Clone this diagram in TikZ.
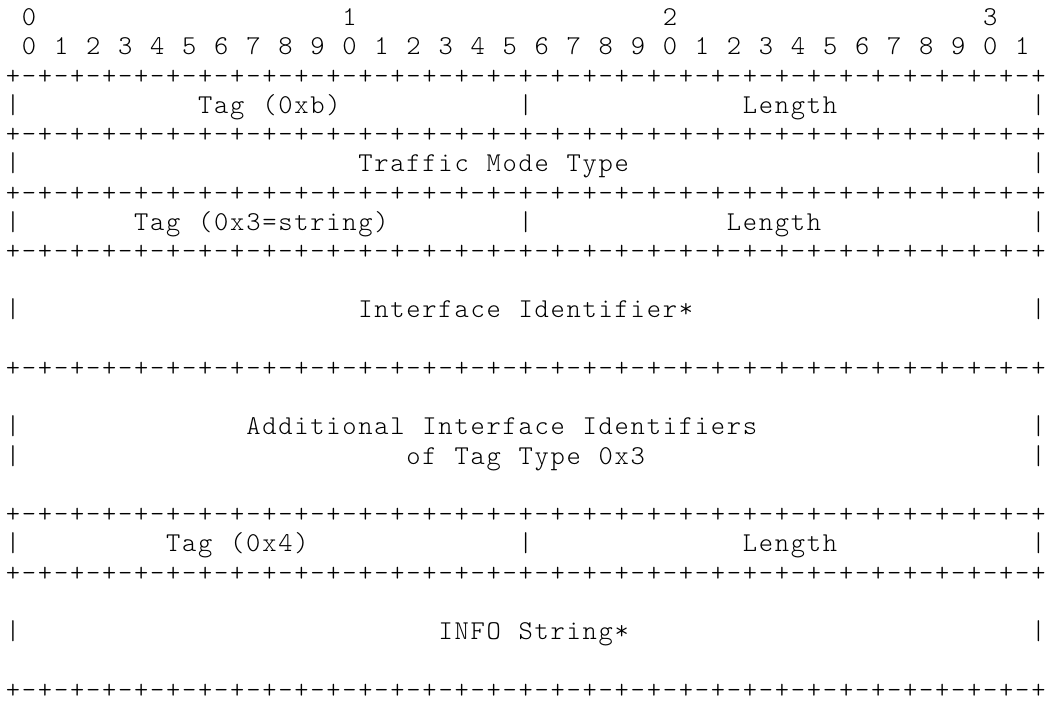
\documentclass[tikz,border=0pt]{standalone}
\usepackage{tikz}

\newlength\cellw
\setlength\cellw{8.01pt}
\newcommand\asciifont{\fontfamily{lmtt}\fontseries{l}\fontsize{13.6pt}{14.62pt}\selectfont}
\makeatletter
% one character per fixed cell, ~ for a blank cell
\newcommand\mono[1]{\@tfor\mono@c:=#1\do{\makebox[\cellw]{\mono@c}}}
\makeatother
\newcommand\octet{+-+-+-+-+-+-+-+-}
\edef\bitrule{\octet\octet\octet\octet+}
\newcommand\rulerow{\expandafter\mono\expandafter{\bitrule}}

\begin{document}
\begin{tikzpicture}[x=8.01pt,y=-14.62pt,
  asc/.style={anchor=base west,inner sep=0pt,font=\asciifont}]
\useasboundingbox (0pt,0pt) rectangle (523.5pt,-352pt);
\begin{scope}[shift={(2.35pt,-12.8pt)}]
% bit numbers
\node[asc] (dec0) at (1,0) {\mono{0}};
\node[asc] (dec1) at (21,0) {\mono{1}};
\node[asc] (dec2) at (41,0) {\mono{2}};
\node[asc] (dec3) at (61,0) {\mono{3}};
\foreach \i in {0,...,31}{
  \pgfmathtruncatemacro\d{mod(\i,10)}
  \node[asc] (bit\i) at (2*\i+1,1) {\mono{\d}};
}
% separators
\foreach \r in {2,4,6,8,12,17,19,23}
  \node[asc] (sep\r) at (0,\r) {\rulerow};
% side bars
\foreach \r in {3,5,7,10,14,15,18,21}{
  \node[asc] (lbar\r) at (0,\r) {\mono{|}};
  \node[asc] (rbar\r) at (64,\r) {\mono{|}};
}
\foreach \r in {3,7,18}
  \node[asc] (mbar\r) at (32,\r) {\mono{|}};
% fields
\node[asc] (tagtm) at (12,3) {\mono{Tag~(0xb)}};
\node[asc] (lentm) at (46,3) {\mono{Length}};
\node[asc] (tmtype) at (22,5) {\mono{Traffic~Mode~Type}};
\node[asc] (tagif) at (8,7) {\mono{Tag~(0x3=string)}};
\node[asc] (lenif) at (45,7) {\mono{Length}};
\node[asc] (ifid) at (22,10) {\mono{Interface~Identifier*}};
\node[asc] (addif) at (15,14) {\mono{Additional~Interface~Identifiers}};
\node[asc] (addtype) at (25,15) {\mono{of~Tag~Type~0x3}};
\node[asc] (taginfo) at (10,18) {\mono{Tag~(0x4)}};
\node[asc] (leninfo) at (46,18) {\mono{Length}};
\node[asc] (info) at (27,21) {\mono{INFO~String*}};
\end{scope}
\end{tikzpicture}
\end{document}
